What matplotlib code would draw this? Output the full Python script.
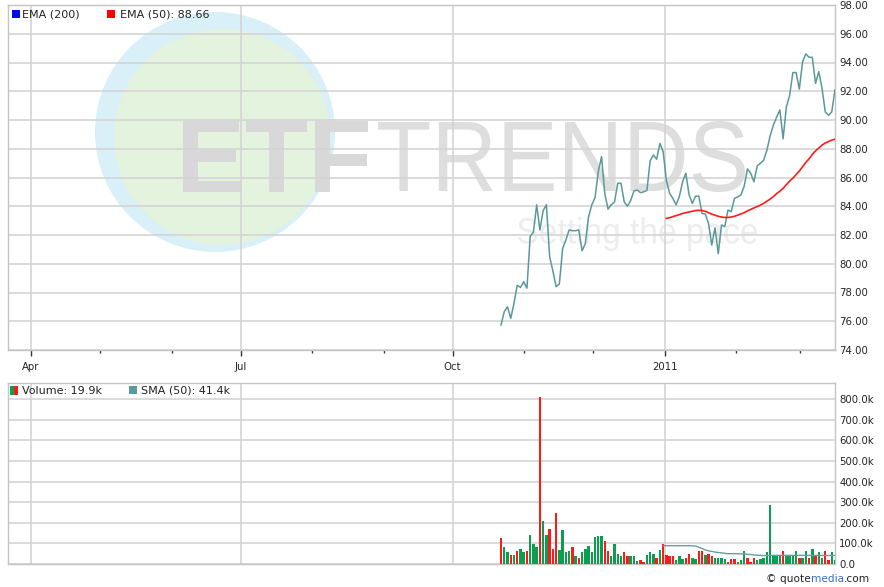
import numpy as np
import pandas as pd
import matplotlib
matplotlib.use('Agg')
import matplotlib.pyplot as plt
from matplotlib.patches import Circle, PathPatch, Rectangle
from matplotlib.textpath import TextPath
from matplotlib.font_manager import FontProperties
from matplotlib.transforms import Affine2D, IdentityTransform
from matplotlib.ticker import FuncFormatter

W, H = 884, 587

# trading days shown with data
first_day = '2010-10-22'
last_day = '2011-03-16'

close = [75.74, 76.66, 77.0, 76.2, 77.25, 78.5, 78.35, 78.75, 78.3, 81.9,
         82.2, 84.1, 82.35, 83.7, 84.1, 80.5, 79.5, 78.4, 78.6, 81.05,
         81.65, 82.35, 82.3, 82.3, 82.35, 80.9, 81.4, 83.27, 84.1, 84.6,
         86.4, 87.45, 84.9, 83.8, 84.1, 84.3, 85.6, 85.6, 84.3, 84.0,
         84.4, 85.06, 85.13, 84.95, 85.0, 85.1, 87.17, 87.57, 87.27, 88.37,
         87.8, 85.8, 84.9, 84.55, 84.1, 84.67, 85.7, 86.3, 84.8, 84.2,
         84.7, 84.7, 83.5, 83.46, 82.8, 81.3, 82.5, 80.7, 82.7, 82.58,
         83.74, 83.62, 84.55, 84.65, 84.8, 85.4, 86.6, 86.3, 85.7, 86.8,
         87.0, 87.2, 87.9, 88.9, 89.65, 90.2, 90.7, 88.7, 90.9, 91.7,
         93.3, 93.3, 92.15, 94.05, 94.6, 94.36, 94.36, 92.55, 93.36, 92.2,
         90.56, 90.33, 90.56, 92.1]

ema_start = 51
ema50 = [83.16, 83.2, 83.28, 83.35, 83.42, 83.5, 83.55, 83.6, 83.65, 83.7,
         83.72, 83.7, 83.65, 83.55, 83.45, 83.38, 83.3, 83.25, 83.22, 83.22,
         83.25, 83.3, 83.38, 83.47, 83.55, 83.68, 83.78, 83.88, 83.98, 84.08,
         84.2, 84.35, 84.5, 84.67, 84.88, 85.05, 85.25, 85.5, 85.75, 85.95,
         86.2, 86.45, 86.75, 87.05, 87.3, 87.6, 87.85, 88.05, 88.25, 88.4,
         88.5, 88.6, 88.66]

# volume in thousands, r = down day, g = up day
volume_k = [127, 83, 57, 44, 44, 63, 75, 57, 63, 140, 96, 83, 811, 210, 140,
            172, 75, 249, 70, 164, 57, 63, 83, 37, 31, 57, 75, 88, 57, 132,
            138, 138, 114, 63, 37, 96, 50, 37, 57, 37, 37, 37, 15, 21, 11,
            44, 57, 50, 31, 67, 96, 44,
            37, 37, 18, 37, 24, 31, 50, 31, 24, 63, 63, 44, 50, 37, 31,
            31, 31, 24, 11, 24, 24, 11, 18, 63, 31, 11, 31, 18, 24, 31,
            57, 286, 37, 37, 37, 63, 37, 37, 37, 63, 31, 31, 63, 31, 75,
            37, 57, 31, 63, 18, 57, 20]
vol_dir = ("rggrgrggrgggrggrrrggggrgrgggggggrrggggrrgggrrgggrgrrr"[:52]
           + "rrgggrrggrrgrrggggrrrgggrrrggggggggrggggrggrgrggrrgg")

sma_start = 50
vol_sma_k = [89, 89, 89, 89, 89, 89, 89, 89, 89, 88,
             87, 82, 75, 68, 64, 61, 58, 56, 54, 52,
             50, 50, 50, 50, 49, 49, 47, 46, 44, 43,
             42, 41, 41, 42, 42, 42, 42, 42, 42, 42,
             42, 42, 42, 42, 41.8, 41.8, 41.7, 41.6, 41.5, 41.5,
             41.4, 41.4, 41.4, 41.4]

price_ticks = np.arange(74, 99, 2)
vol_ticks = np.arange(0, 800001, 100000)

teal = '#5a9999'
red = '#ff1a1a'
green = '#0a9e4f'
gridc = '#d4d4d4'
spinec = '#c4c4c4'

n = len(close)
xd = np.arange(n)
xmax = n - 1
xmin = xmax - 827 / (334 / (n - 1))

# month ticks placed on a calendar scale matched to the data span
d0, d1 = pd.Timestamp(first_day), pd.Timestamp(last_day)
per_day = (n - 1) / (d1 - d0).days
months = pd.date_range('2010-04-01', '2011-03-01', freq='MS')
mpos = np.array([(m - d0).days * per_day for m in months])
is_major = (months.month % 3) == 1
major_pos = mpos[is_major]
minor_pos = mpos[~is_major]
major_lab = [str(m.year) if m.month == 1 else m.strftime('%b') for m in months[is_major]]

fig = plt.figure(figsize=(W / 100, H / 100), dpi=100)
fig.patch.set_facecolor('white')


def box(l, t, r, b):
    return [l / W, 1 - b / H, (r - l) / W, (b - t) / H]


def px_rect(l, t, w, h, color):
    fig.add_artist(Rectangle((l, H - t - h), w, h, transform=IdentityTransform(),
                             facecolor=color, edgecolor='none', zorder=5))


def stamp(s, l, t, r, b, color, weight='normal'):
    tp = TextPath((0, 0), s, size=100,
                  prop=FontProperties(family='Liberation Sans', weight=weight))
    e = tp.get_extents()
    tr = Affine2D().translate(-e.x0, -e.y0).scale((r - l) / e.width, (b - t) / e.height).translate(l, H - b)
    fig.add_artist(PathPatch(tp, transform=tr, facecolor=color, edgecolor='none', zorder=-1))


# watermark
fig.add_artist(Circle((215, H - 132), 120, transform=IdentityTransform(),
                      facecolor='#d9f0f8', edgecolor='none', zorder=-2))
fig.add_artist(Circle((222, H - 137), 108, transform=IdentityTransform(),
                      facecolor='#e4f3dd', edgecolor='none', zorder=-2))
stamp('ETF', 183, 121, 368, 192, '#d8d8d8', weight='bold')
stamp('TRENDS', 378, 121, 745, 192, '#dedede')
stamp('Setting the pace', 518, 217, 757, 251, '#ededed')

ax = fig.add_axes(box(8, 5, 835, 350))
axv = fig.add_axes(box(8, 383, 835, 564))

for a in (ax, axv):
    a.set_facecolor('none')
    a.set_axisbelow(True)
    a.set_xlim(xmin, xmax)
    for sp in a.spines.values():
        sp.set_color(spinec)
        sp.set_linewidth(1)
    a.yaxis.tick_right()
    a.tick_params(axis='y', length=0, pad=3, labelsize=7.3, labelcolor='#222222')
    a.set_xticks(major_pos)
    a.grid(axis='both', which='major', color=gridc, lw=1.2)

# price panel
ax.plot(xd, close, color=teal, lw=1.1, zorder=3)
ax.plot(xd[ema_start:], ema50, color=red, lw=1.2, zorder=4)
ax.set_ylim(74, 98)
ax.set_yticks(price_ticks)
ax.yaxis.set_major_formatter(FuncFormatter(lambda v, p: f'{v:.2f}'))
ax.set_xticklabels(major_lab)
ax.set_xticks(minor_pos, minor=True)
ax.tick_params(axis='x', which='major', direction='out', length=4, width=1,
               color='#333333', pad=5, labelsize=7.3, labelcolor='#222222')
ax.tick_params(axis='x', which='minor', direction='out', length=2, width=1, color='#333333')

# volume panel
vol = np.array(volume_k) * 1000
cols = [green if c == 'g' else red for c in vol_dir]
axv.bar(xd, vol, width=0.75, color=cols, zorder=3)
axv.plot(xd[sma_start:], np.array(vol_sma_k) * 1000, color='#6a9e9e', lw=1.0, zorder=4)
axv.set_ylim(0, 879000)
axv.set_yticks(vol_ticks)
axv.yaxis.set_major_formatter(FuncFormatter(lambda v, p: '0.0' if v == 0 else f'{v / 1000:.1f}k'))
axv.tick_params(axis='x', length=0, labelbottom=False)

# legends
lfont = dict(fontsize=8, color='#222222', va='center')
px_rect(12, 10, 8, 8, '#0000ff')
fig.text(22 / W, 1 - 14.5 / H, 'EMA (200)', **lfont)
px_rect(107, 10, 8, 8, '#ff0000')
fig.text(120 / W, 1 - 14.5 / H, 'EMA (50): 88.66', **lfont)

px_rect(10, 386, 4, 9, green)
px_rect(14, 386, 4, 9, red)
fig.text(22 / W, 1 - 390.5 / H, 'Volume: 19.9k', **lfont)
px_rect(129, 386, 8, 8, teal)
fig.text(141 / W, 1 - 390.5 / H, 'SMA (50): 41.4k', **lfont)

# credit line
r = fig.canvas.get_renderer()
xp = 766
for s, c in [('© quote', '#222222'), ('media', '#3a6fc4'), ('.com', '#222222')]:
    t = fig.text(xp / W, 1 - 579 / H, s, color=c, fontsize=7.6, va='center')
    xp = t.get_window_extent(r).x1

fig.savefig('out.png', dpi=100)
